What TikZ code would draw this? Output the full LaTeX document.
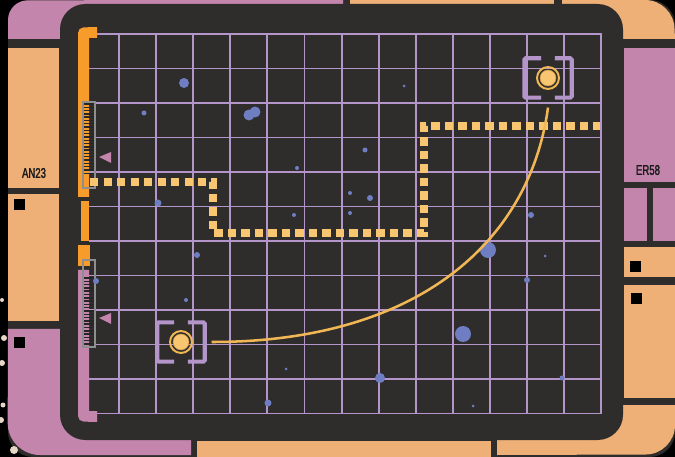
\documentclass[tikz,border=0pt]{standalone}
\usepackage{fontspec}
\usetikzlibrary{positioning, calc}
\newfontfamily\tagfont[FakeStretch=0.68, FakeBold=1.6]{Liberation Sans}
\definecolor{cframe}{HTML}{2E2D2C}
\definecolor{cpink}{HTML}{C385AB}
\definecolor{cpeach}{HTML}{EEB077}
\definecolor{corange}{HTML}{F79B2B}
\definecolor{cgrid}{HTML}{B395CA}
\definecolor{cpath}{HTML}{F8C571}
\definecolor{ccurve}{HTML}{F2B755}
\definecolor{cdot}{HTML}{6F7EC2}
\definecolor{cruler}{HTML}{8E8E8E}
\definecolor{csplat}{HTML}{E6D6C6}
\tikzset{
  every picture/.style={line width=1pt},
  gridline/.style={draw=cgrid, line width=1.3pt},
  route/.style={draw=cpath, line width=5pt, dash pattern=on 5.7pt off 3.9pt},
  curve/.style={draw=ccurve, line width=1.8pt},
  bracketbox/.style={minimum width=1.15cm, minimum height=0.95cm, inner sep=0pt},
  bracketline/.style={draw=cgrid, line width=2.9pt, rounded corners=1pt},
  beacon/.style={circle, fill=cpath, draw=ccurve!80!black, line width=0.4pt, minimum size=0.4cm, inner sep=0pt},
  ring/.style={draw=ccurve, line width=1.4pt},
  ruler/.style={draw=cruler, line width=1.1pt},
  tick/.style={draw=black!85, line width=1pt},
  tag/.style={font=\tagfont\fontsize{10}{10}\selectfont, text=black!90, inner sep=0pt},
}

\begin{document}
\begin{tikzpicture}[x=0.025cm, y=-0.025cm]
  \fill[black] (0,0) rectangle (675,457);
  \useasboundingbox (0,0) rectangle (675,457);
  \fill[cframe, rounded corners=18pt] (8,0) rectangle (675,457);
  \fill[cpink] (8,39) -- (8,20) arc[start angle=180, end angle=90, radius=14pt] -- (343,0) -- (343,39) -- cycle;
  \fill[cpeach] (350,0) rectangle (554,39);
  \fill[cpeach] (562,39) -- (562,0) -- (645,0) arc[start angle=90, end angle=0, radius=21pt] -- (675,39) -- cycle;
  \fill[cpink] (624,48) rectangle (675,182);
  \fill[cpink] (624,188) rectangle (647,241);
  \fill[cpink] (653,188) rectangle (675,241);
  \fill[cpeach] (624,247) rectangle (675,277);
  \fill[cpeach] (624,285) rectangle (675,398);
  \fill[cpeach] (497,455) -- (497,405) -- (675,405) -- (675,425) arc[start angle=0, end angle=-90, radius=21pt] -- cycle;
  \fill[cpeach] (197,441) rectangle (491,457);
  \fill[cpink] (191,455) -- (40,455) arc[start angle=-90, end angle=-180, radius=23pt] -- (8,329) -- (191,329) -- cycle;
  \fill[cpeach] (8,48) rectangle (59,188);
  \fill[cpeach] (8,194) rectangle (59,321);
  \foreach \x/\y in {14/199,14/337,630/261,631/293} \fill[black] (\x,\y) rectangle ++(11,11);
  \foreach \x/\y/\r in {2/300/2,4/338/3,2/363/3,3/405/2.5,1/420/3,14/450/4} \fill[csplat] (\x,\y) circle[radius=\r*0.71pt];
  \node[tag] (an23) at (34,173) {AN23};
  \node[tag] (er58) at (648,170) {ER58};

  \fill[cframe, rounded corners=18pt] (60,4) rectangle (623,440);
  \foreach \i in {0,...,13} \draw[gridline] (119+37.1*\i,34) -- (119+37.1*\i,414);
  \foreach \j in {0,...,11} \draw[gridline] (89,34+34.5*\j) -- (602,34+34.5*\j);

  \fill[corange] (78,197) -- (78,33) arc[start angle=180, end angle=90, radius=4pt] -- (97,27) -- (97,38) -- (89,38) -- (89,197) -- cycle;
  \fill[corange] (81,201) rectangle (89,241);
  \fill[corange] (78,245) rectangle (90,266);
  \fill[cpink] (78,270) -- (78,416) arc[start angle=180, end angle=270, radius=4pt] -- (97,422) -- (97,411) -- (89,411) -- (89,270) -- cycle;
  \foreach \k in {0,...,21} \draw[tick] (84,104+3.3*\k) -- (94,104+3.3*\k);
  \foreach \k in {0,...,20} \draw[tick] (84,278+3.3*\k) -- (94,278+3.3*\k);
  \draw[ruler] (83,102) rectangle (95,188);
  \draw[ruler] (83,260) rectangle (95,347);
  \fill[cpink] (99,157) -- (111,152) -- (111,163) -- cycle;
  \fill[cpink] (99,318) -- (111,313) -- (111,324) -- cycle;

  \foreach \x/\y/\r in {184/83/5,144/113/2.5,249/115/5.5,255/112/5.5,297/168/2,158/203/3.5,404/86/1.5,365/150/2.5,350/193/2,370/198/3,350/213/2,531/215/3,294/215/2,488/250/8,197/255/3,545/256/1.5,527/280/3,96/281/3,186/300/2,463/334/8,286/369/1.5,380/378/5,562/378/2.5,268/403/3.5,473/406/1.5}
    \fill[cdot] (\x,\y) circle[radius=\r*0.71pt];

  \draw[route] (90,182) -- (213,182) -- (213,233) -- (424,233) -- (424,126) -- (600,126);

  \node[bracketbox] (startbox) at (181,342) {};
  \node[bracketbox] (goalbox) at (548,78) {};
  \foreach \b in {startbox,goalbox} {
    \draw[bracketline] ([xshift=12pt]\b.north west) -| (\b.south west) -- ([xshift=12pt]\b.south west);
    \draw[bracketline] ([xshift=-12pt]\b.north east) -| (\b.south east) -- ([xshift=-12pt]\b.south east);
    \node[beacon] (\b dot) at (\b) {};
    \draw[ring] (\b) circle[radius=7.8pt];
  }
  \draw[curve] ([xshift=5pt]startbox.east) .. controls (420,342) and (530,240) .. ([yshift=-7pt]goalbox.south);
\end{tikzpicture}
\end{document}
